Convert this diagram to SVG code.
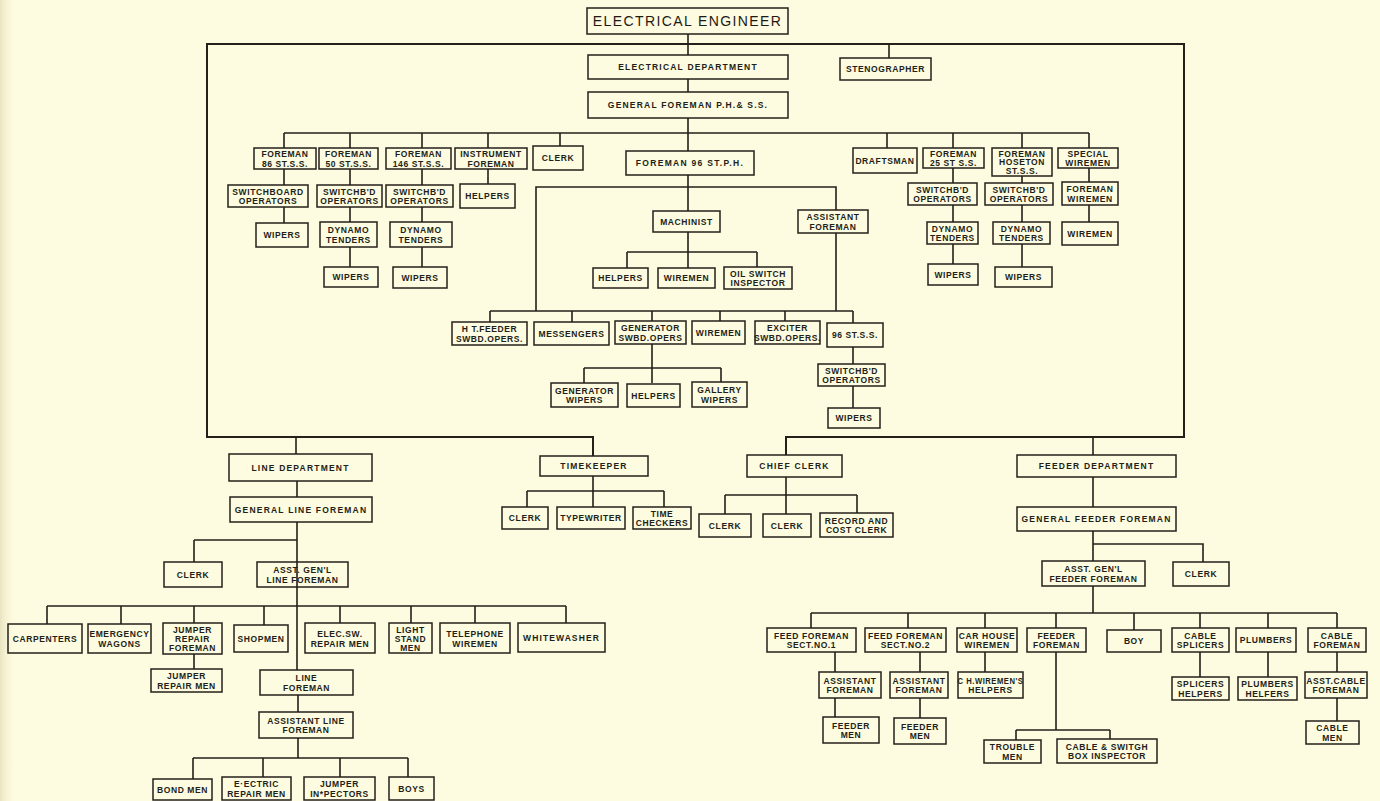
<svg xmlns="http://www.w3.org/2000/svg" width="1380" height="801" viewBox="0 0 1380 801">
<defs>
<linearGradient id="edge" x1="0" y1="0" x2="1" y2="0"><stop offset="0" stop-color="#e9e3c0"/><stop offset="1" stop-color="#fdfbe0" stop-opacity="0"/></linearGradient>
<style>
.b{fill:none;stroke:#24201a;stroke-width:1.5}
.c{fill:none;stroke:#24201a;stroke-width:1.6}
.fr{fill:none;stroke:#24201a;stroke-width:2}
.t{font-family:"Liberation Sans",Arial,sans-serif;font-size:8.5px;font-weight:bold;fill:#221e18;text-anchor:middle;letter-spacing:0.6px}
.d{font-family:"Liberation Sans",Arial,sans-serif;font-size:8.5px;font-weight:bold;fill:#221e18;text-anchor:middle;letter-spacing:1.2px}
.h{font-family:"Liberation Sans",Arial,sans-serif;font-size:14px;fill:#1d1a15;text-anchor:middle;letter-spacing:1.4px}
</style>
</defs>
<rect x="0" y="0" width="1380" height="801" fill="#fdfbe0"/>
<rect x="0" y="0" width="16" height="801" fill="url(#edge)"/>

<g id="connectors">
<path class="fr" d="M593,456 V437 H207 V44 H1184 V437 H786 V455"/>
<path class="c" d="M296,437 V454 M1093,437 V455"/>
<path class="c" d="M688,34 V55 M889,44 V58 M688,79 V92 M688,118 V133"/>
<path class="c" d="M284,133 H1089 M284,133 V148 M350,133 V148 M422,133 V148 M488,133 V148 M560,133 V146 M688,133 V151 M887,133 V148 M953,133 V148 M1022,133 V148 M1089,133 V148"/>
<path class="c" d="M284,169 V185 M284,207 V223"/>
<path class="c" d="M350,169 V185 M350,207 V222 M350,247 V267"/>
<path class="c" d="M422,169 V185 M422,207 V222 M422,247 V267"/>
<path class="c" d="M488,169 V184"/>
<path class="c" d="M953,168 V183 M953,205 V222 M953,244 V264"/>
<path class="c" d="M1022,176 V183 M1022,205 V222 M1022,244 V267"/>
<path class="c" d="M1089,168 V182 M1089,205 V222"/>
<path class="c" d="M688,175 V211 M536,311 V187 H836 V210 M836,233 V311 M490,311 H853"/>
<path class="c" d="M490,311 V322 M572,311 V322 M652,311 V321 M720,311 V321 M785,311 V321 M853,311 V323"/>
<path class="c" d="M688,232 V268 M627,252 H757 M627,252 V268 M757,252 V267"/>
<path class="c" d="M652,344 V383 M584,368 H721 M584,368 V383 M721,368 V382"/>
<path class="c" d="M853,347 V364 M853,386 V408"/>
<path class="c" d="M297,481 V497 M297,522 V670 M194,540 H297 M194,540 V562"/>
<path class="c" d="M47,606 H566 M47,606 V624 M121,606 V624 M194,606 V623 M264,606 V625 M340,606 V623 M411,606 V623 M475,606 V623 M566,606 V623"/>
<path class="c" d="M194,654 V669 M298,695 V712 M298,738 V758 M193,758 H408 M193,758 V779 M263,758 V777 M340,758 V777 M408,758 V777"/>
<path class="c" d="M593,476 V507 M527,491 H664 M527,491 V507 M664,491 V507"/>
<path class="c" d="M786,477 V514 M725,495 H857 M725,495 V514 M857,495 V513"/>
<path class="c" d="M1093,477 V507 M1093,531 V561 M1093,544 H1203 V562 M1093,586 V613"/>
<path class="c" d="M811,613 H1337 M811,613 V628 M908,613 V628 M985,613 V628 M1056,613 V628 M1134,613 V630 M1200,613 V628 M1268,613 V628 M1337,613 V628"/>
<path class="c" d="M835,652 V672 M835,698 V717 M920,652 V672 M920,698 V718 M985,652 V672"/>
<path class="c" d="M1056,652 V730 M1016,730 H1110 M1016,730 V740 M1110,730 V739"/>
<path class="c" d="M1200,652 V677 M1268,652 V677 M1337,652 V672 M1337,698 V721"/>
</g>

<g id="n-electrical-engineer"><rect class="b" x="587" y="8" width="201" height="26"/><text class="h" x="687.5" y="26">ELECTRICAL ENGINEER</text></g>
<g id="n-electrical-department"><rect class="b" x="588" y="55" width="200" height="24"/><text class="d" x="688" y="70">ELECTRICAL DEPARTMENT</text></g>
<g id="n-stenographer"><rect class="b" x="840" y="58" width="91" height="22"/><text class="t" x="885.5" y="72">STENOGRAPHER</text></g>
<g id="n-general-foreman"><rect class="b" x="588" y="92" width="200" height="26"/><text class="d" x="688" y="108">GENERAL FOREMAN P.H.&amp; S.S.</text></g>

<g id="n-foreman-86"><rect class="b" x="254" y="148" width="62" height="21"/><text class="t"><tspan x="285" y="157">FOREMAN</tspan><tspan x="285" y="166.5">86 ST.S.S.</tspan></text></g>
<g id="n-foreman-50"><rect class="b" x="319" y="148" width="59" height="21"/><text class="t"><tspan x="348.5" y="157">FOREMAN</tspan><tspan x="348.5" y="166.5">50 ST.S.S.</tspan></text></g>
<g id="n-foreman-146"><rect class="b" x="386" y="148" width="65" height="21"/><text class="t"><tspan x="418.5" y="157">FOREMAN</tspan><tspan x="418.5" y="166.5">146 ST.S.S.</tspan></text></g>
<g id="n-instrument-foreman"><rect class="b" x="455" y="148" width="72" height="21"/><text class="t"><tspan x="491" y="157">INSTRUMENT</tspan><tspan x="491" y="166.5">FOREMAN</tspan></text></g>
<g id="n-clerk-top"><rect class="b" x="533" y="146" width="50" height="24"/><text class="t" x="558" y="161">CLERK</text></g>
<g id="n-foreman-96"><rect class="b" x="626" y="151" width="128" height="24"/><text class="t" x="690" y="166" style="letter-spacing:1.3px">FOREMAN 96 ST.P.H.</text></g>
<g id="n-draftsman"><rect class="b" x="853" y="148" width="64" height="25"/><text class="t" x="885" y="163.5">DRAFTSMAN</text></g>
<g id="n-foreman-25"><rect class="b" x="923" y="148" width="61" height="20"/><text class="t"><tspan x="953.5" y="156.5">FOREMAN</tspan><tspan x="953.5" y="166">25 ST S.S.</tspan></text></g>
<g id="n-foreman-hoseton"><rect class="b" x="992" y="148" width="60" height="28"/><text class="t"><tspan x="1022" y="156.5">FOREMAN</tspan><tspan x="1022" y="165">HOSETON</tspan><tspan x="1022" y="173.5">ST.S.S.</tspan></text></g>
<g id="n-special-wiremen"><rect class="b" x="1058" y="148" width="60" height="20"/><text class="t"><tspan x="1088" y="156.5">SPECIAL</tspan><tspan x="1088" y="166">WIREMEN</tspan></text></g>

<g id="n-switchboard-86"><rect class="b" x="228" y="185" width="80" height="22"/><text class="t"><tspan x="268" y="194.5">SWITCHBOARD</tspan><tspan x="268" y="204">OPERATORS</tspan></text></g>
<g id="n-switchbd-50"><rect class="b" x="317" y="185" width="65" height="22"/><text class="t"><tspan x="349.5" y="194.5">SWITCHB'D</tspan><tspan x="349.5" y="204">OPERATORS</tspan></text></g>
<g id="n-switchbd-146"><rect class="b" x="386" y="185" width="67" height="22"/><text class="t"><tspan x="419.5" y="194.5">SWITCHB'D</tspan><tspan x="419.5" y="204">OPERATORS</tspan></text></g>
<g id="n-helpers-instr"><rect class="b" x="460" y="184" width="55" height="24"/><text class="t" x="487.5" y="199">HELPERS</text></g>
<g id="n-switchbd-25"><rect class="b" x="908" y="183" width="69" height="22"/><text class="t"><tspan x="942.5" y="192.5">SWITCHB'D</tspan><tspan x="942.5" y="202">OPERATORS</tspan></text></g>
<g id="n-switchbd-hoseton"><rect class="b" x="985" y="183" width="68" height="22"/><text class="t"><tspan x="1019" y="192.5">SWITCHB'D</tspan><tspan x="1019" y="202">OPERATORS</tspan></text></g>
<g id="n-foreman-wiremen"><rect class="b" x="1062" y="182" width="56" height="23"/><text class="t"><tspan x="1090" y="192">FOREMAN</tspan><tspan x="1090" y="201.5">WIREMEN</tspan></text></g>

<g id="n-wipers-86"><rect class="b" x="256" y="223" width="52" height="24"/><text class="t" x="282" y="238">WIPERS</text></g>
<g id="n-dynamo-50"><rect class="b" x="320" y="222" width="57" height="25"/><text class="t"><tspan x="348.5" y="233">DYNAMO</tspan><tspan x="348.5" y="242.5">TENDERS</tspan></text></g>
<g id="n-dynamo-146"><rect class="b" x="390" y="222" width="62" height="25"/><text class="t"><tspan x="421" y="233">DYNAMO</tspan><tspan x="421" y="242.5">TENDERS</tspan></text></g>
<g id="n-dynamo-25"><rect class="b" x="927" y="222" width="51" height="22"/><text class="t"><tspan x="952.5" y="231.5">DYNAMO</tspan><tspan x="952.5" y="241">TENDERS</tspan></text></g>
<g id="n-dynamo-hoseton"><rect class="b" x="993" y="222" width="57" height="22"/><text class="t"><tspan x="1021.5" y="231.5">DYNAMO</tspan><tspan x="1021.5" y="241">TENDERS</tspan></text></g>
<g id="n-wiremen-special"><rect class="b" x="1062" y="222" width="56" height="23"/><text class="t" x="1090" y="236.5">WIREMEN</text></g>

<g id="n-wipers-50"><rect class="b" x="324" y="267" width="54" height="20"/><text class="t" x="351" y="280">WIPERS</text></g>
<g id="n-wipers-146"><rect class="b" x="393" y="267" width="54" height="21"/><text class="t" x="420" y="280.5">WIPERS</text></g>
<g id="n-wipers-25"><rect class="b" x="928" y="264" width="50" height="21"/><text class="t" x="953" y="277.5">WIPERS</text></g>
<g id="n-wipers-hoseton"><rect class="b" x="995" y="267" width="57" height="20"/><text class="t" x="1023.5" y="280">WIPERS</text></g>

<g id="n-machinist"><rect class="b" x="653" y="211" width="67" height="21"/><text class="t" x="686.5" y="224.5">MACHINIST</text></g>
<g id="n-assistant-foreman"><rect class="b" x="798" y="210" width="70" height="23"/><text class="t"><tspan x="833" y="220">ASSISTANT</tspan><tspan x="833" y="229.5">FOREMAN</tspan></text></g>
<g id="n-helpers-mach"><rect class="b" x="593" y="268" width="55" height="20"/><text class="t" x="620.5" y="281">HELPERS</text></g>
<g id="n-wiremen-mach"><rect class="b" x="658" y="268" width="57" height="20"/><text class="t" x="686.5" y="281">WIREMEN</text></g>
<g id="n-oil-switch"><rect class="b" x="724" y="267" width="68" height="22"/><text class="t"><tspan x="758" y="276.5">OIL SWITCH</tspan><tspan x="758" y="286">INSPECTOR</tspan></text></g>

<g id="n-ht-feeder"><rect class="b" x="452" y="322" width="75" height="23"/><text class="t"><tspan x="489.5" y="332">H T.FEEDER</tspan><tspan x="489.5" y="341.5">SWBD.OPERS.</tspan></text></g>
<g id="n-messengers"><rect class="b" x="534" y="322" width="75" height="23"/><text class="t" x="571.5" y="336.5">MESSENGERS</text></g>
<g id="n-generator-swbd"><rect class="b" x="615" y="321" width="71" height="23"/><text class="t"><tspan x="650.5" y="331">GENERATOR</tspan><tspan x="650.5" y="340.5">SWBD.OPERS</tspan></text></g>
<g id="n-wiremen-ph"><rect class="b" x="692" y="321" width="53" height="23"/><text class="t" x="718.5" y="335.5">WIREMEN</text></g>
<g id="n-exciter"><rect class="b" x="755" y="321" width="65" height="23"/><text class="t"><tspan x="787.5" y="331">EXCITER</tspan><tspan x="787.5" y="340.5">SWBD.OPERS.</tspan></text></g>
<g id="n-96-ss"><rect class="b" x="827" y="323" width="56" height="24"/><text class="t" x="855" y="338">96 ST.S.S.</text></g>

<g id="n-generator-wipers"><rect class="b" x="551" y="383" width="67" height="24"/><text class="t"><tspan x="584.5" y="393.5">GENERATOR</tspan><tspan x="584.5" y="403">WIPERS</tspan></text></g>
<g id="n-helpers-gen"><rect class="b" x="627" y="384" width="53" height="23"/><text class="t" x="653.5" y="398.5">HELPERS</text></g>
<g id="n-gallery-wipers"><rect class="b" x="692" y="382" width="55" height="25"/><text class="t"><tspan x="719.5" y="393">GALLERY</tspan><tspan x="719.5" y="402.5">WIPERS</tspan></text></g>
<g id="n-switchbd-96"><rect class="b" x="818" y="364" width="67" height="22"/><text class="t"><tspan x="851.5" y="373.5">SWITCHB'D</tspan><tspan x="851.5" y="383">OPERATORS</tspan></text></g>
<g id="n-wipers-96"><rect class="b" x="828" y="408" width="52" height="20"/><text class="t" x="854" y="421">WIPERS</text></g>

<g id="n-line-department"><rect class="b" x="229" y="454" width="143" height="27"/><text class="d" x="300.5" y="470.5">LINE DEPARTMENT</text></g>
<g id="n-general-line-foreman"><rect class="b" x="230" y="497" width="142" height="25"/><text class="d" x="301" y="512.5">GENERAL LINE FOREMAN</text></g>
<g id="n-clerk-line"><rect class="b" x="164" y="562" width="58" height="25"/><text class="t" x="193" y="577.5">CLERK</text></g>
<g id="n-asst-gen-line"><rect class="b" x="257" y="562" width="91" height="25"/><text class="t"><tspan x="302.5" y="573">ASST. GEN'L</tspan><tspan x="302.5" y="582.5">LINE FOREMAN</tspan></text></g>
<g id="n-carpenters"><rect class="b" x="8" y="624" width="74" height="29"/><text class="t" x="45" y="641.5">CARPENTERS</text></g>
<g id="n-emergency"><rect class="b" x="88" y="624" width="63" height="29"/><text class="t"><tspan x="119.5" y="637">EMERGENCY</tspan><tspan x="119.5" y="646.5">WAGONS</tspan></text></g>
<g id="n-jumper-foreman"><rect class="b" x="163" y="623" width="59" height="31"/><text class="t"><tspan x="192.5" y="632.5">JUMPER</tspan><tspan x="192.5" y="641.5">REPAIR</tspan><tspan x="192.5" y="650.5">FOREMAN</tspan></text></g>
<g id="n-shopmen"><rect class="b" x="234" y="625" width="54" height="27"/><text class="t" x="261" y="641.5">SHOPMEN</text></g>
<g id="n-elec-sw"><rect class="b" x="305" y="623" width="70" height="30"/><text class="t"><tspan x="340" y="637">ELEC.SW.</tspan><tspan x="340" y="646.5">REPAIR MEN</tspan></text></g>
<g id="n-light-stand"><rect class="b" x="389" y="623" width="43" height="30"/><text class="t"><tspan x="410.5" y="632.5">LIGHT</tspan><tspan x="410.5" y="641.5">STAND</tspan><tspan x="410.5" y="650.5">MEN</tspan></text></g>
<g id="n-telephone"><rect class="b" x="440" y="623" width="70" height="30"/><text class="t"><tspan x="475" y="637">TELEPHONE</tspan><tspan x="475" y="646.5">WIREMEN</tspan></text></g>
<g id="n-whitewasher"><rect class="b" x="518" y="623" width="87" height="29"/><text class="t" x="561.5" y="640.5" style="letter-spacing:1.1px">WHITEWASHER</text></g>
<g id="n-jumper-men"><rect class="b" x="151" y="669" width="71" height="23"/><text class="t"><tspan x="186.5" y="679">JUMPER</tspan><tspan x="186.5" y="688.5">REPAIR MEN</tspan></text></g>
<g id="n-line-foreman"><rect class="b" x="260" y="670" width="93" height="25"/><text class="t"><tspan x="306.5" y="681">LINE</tspan><tspan x="306.5" y="690.5">FOREMAN</tspan></text></g>
<g id="n-assistant-line"><rect class="b" x="259" y="712" width="94" height="26"/><text class="t"><tspan x="306" y="723.5">ASSISTANT LINE</tspan><tspan x="306" y="733">FOREMAN</tspan></text></g>
<g id="n-bond-men"><rect class="b" x="153" y="779" width="59" height="21"/><text class="t" x="182.5" y="792.5">BOND MEN</text></g>
<g id="n-electric-repair"><rect class="b" x="222" y="777" width="69" height="23"/><text class="t"><tspan x="256.5" y="787">E·ECTRIC</tspan><tspan x="256.5" y="796.5">REPAIR MEN</tspan></text></g>
<g id="n-jumper-inspectors"><rect class="b" x="304" y="777" width="71" height="23"/><text class="t"><tspan x="339.5" y="787">JUMPER</tspan><tspan x="339.5" y="796.5">IN*PECTORS</tspan></text></g>
<g id="n-boys"><rect class="b" x="389" y="777" width="45" height="23"/><text class="t" x="411.5" y="791.5">BOYS</text></g>

<g id="n-timekeeper"><rect class="b" x="540" y="456" width="108" height="20"/><text class="d" x="594" y="469">TIMEKEEPER</text></g>
<g id="n-clerk-tk"><rect class="b" x="502" y="507" width="46" height="22"/><text class="t" x="525" y="521">CLERK</text></g>
<g id="n-typewriter"><rect class="b" x="557" y="507" width="68" height="22"/><text class="t" x="591" y="521">TYPEWRITER</text></g>
<g id="n-time-checkers"><rect class="b" x="633" y="507" width="58" height="22"/><text class="t"><tspan x="662" y="516.5">TIME</tspan><tspan x="662" y="526">CHECKERS</tspan></text></g>

<g id="n-chief-clerk"><rect class="b" x="747" y="455" width="95" height="22"/><text class="d" x="794.5" y="469">CHIEF CLERK</text></g>
<g id="n-clerk-c1"><rect class="b" x="699" y="514" width="52" height="23"/><text class="t" x="725" y="528.5">CLERK</text></g>
<g id="n-clerk-c2"><rect class="b" x="763" y="514" width="48" height="23"/><text class="t" x="787" y="528.5">CLERK</text></g>
<g id="n-record-cost"><rect class="b" x="820" y="513" width="73" height="24"/><text class="t"><tspan x="856.5" y="523.5">RECORD AND</tspan><tspan x="856.5" y="533">COST CLERK</tspan></text></g>

<g id="n-feeder-department"><rect class="b" x="1017" y="455" width="159" height="22"/><text class="d" x="1096.5" y="469">FEEDER DEPARTMENT</text></g>
<g id="n-general-feeder"><rect class="b" x="1017" y="507" width="159" height="24"/><text class="d" x="1096.5" y="522">GENERAL FEEDER FOREMAN</text></g>
<g id="n-asst-gen-feeder"><rect class="b" x="1042" y="561" width="103" height="25"/><text class="t"><tspan x="1093.5" y="572">ASST. GEN'L</tspan><tspan x="1093.5" y="581.5">FEEDER FOREMAN</tspan></text></g>
<g id="n-clerk-feeder"><rect class="b" x="1173" y="562" width="56" height="24"/><text class="t" x="1201" y="577">CLERK</text></g>
<g id="n-feed-foreman-1"><rect class="b" x="767" y="628" width="89" height="24"/><text class="t"><tspan x="811.5" y="638.5">FEED FOREMAN</tspan><tspan x="811.5" y="648">SECT.NO.1</tspan></text></g>
<g id="n-feed-foreman-2"><rect class="b" x="865" y="628" width="81" height="24"/><text class="t"><tspan x="905.5" y="638.5">FEED FOREMAN</tspan><tspan x="905.5" y="648">SECT.NO.2</tspan></text></g>
<g id="n-car-house"><rect class="b" x="957" y="628" width="60" height="24"/><text class="t"><tspan x="987" y="638.5">CAR HOUSE</tspan><tspan x="987" y="648">WIREMEN</tspan></text></g>
<g id="n-feeder-foreman"><rect class="b" x="1027" y="628" width="59" height="24"/><text class="t"><tspan x="1056.5" y="638.5">FEEDER</tspan><tspan x="1056.5" y="648">FOREMAN</tspan></text></g>
<g id="n-boy"><rect class="b" x="1107" y="630" width="54" height="22"/><text class="t" x="1134" y="644">BOY</text></g>
<g id="n-cable-splicers"><rect class="b" x="1172" y="628" width="57" height="24"/><text class="t"><tspan x="1200.5" y="638.5">CABLE</tspan><tspan x="1200.5" y="648">SPLICERS</tspan></text></g>
<g id="n-plumbers"><rect class="b" x="1236" y="628" width="60" height="24"/><text class="t" x="1266" y="643">PLUMBERS</text></g>
<g id="n-cable-foreman"><rect class="b" x="1308" y="628" width="58" height="24"/><text class="t"><tspan x="1337" y="638.5">CABLE</tspan><tspan x="1337" y="648">FOREMAN</tspan></text></g>
<g id="n-assistant-foreman-1"><rect class="b" x="819" y="672" width="62" height="26"/><text class="t"><tspan x="850" y="683.5">ASSISTANT</tspan><tspan x="850" y="693">FOREMAN</tspan></text></g>
<g id="n-assistant-foreman-2"><rect class="b" x="890" y="672" width="58" height="26"/><text class="t"><tspan x="919" y="683.5">ASSISTANT</tspan><tspan x="919" y="693">FOREMAN</tspan></text></g>
<g id="n-ch-helpers"><rect class="b" x="958" y="672" width="65" height="26"/><text class="t"><tspan x="990.5" y="683.5" textLength="66" lengthAdjust="spacingAndGlyphs">C H.WIREMEN'S</tspan><tspan x="990.5" y="693">HELPERS</tspan></text></g>
<g id="n-splicers-helpers"><rect class="b" x="1172" y="677" width="57" height="23"/><text class="t"><tspan x="1200.5" y="687">SPLICERS</tspan><tspan x="1200.5" y="696.5">HELPERS</tspan></text></g>
<g id="n-plumbers-helpers"><rect class="b" x="1238" y="677" width="59" height="23"/><text class="t"><tspan x="1267.5" y="687">PLUMBERS</tspan><tspan x="1267.5" y="696.5">HELFERS</tspan></text></g>
<g id="n-asst-cable"><rect class="b" x="1305" y="672" width="62" height="26"/><text class="t"><tspan x="1336" y="683.5">ASST.CABLE</tspan><tspan x="1336" y="693">FOREMAN</tspan></text></g>
<g id="n-feeder-men-1"><rect class="b" x="823" y="717" width="56" height="26"/><text class="t"><tspan x="851" y="728.5">FEEDER</tspan><tspan x="851" y="738">MEN</tspan></text></g>
<g id="n-feeder-men-2"><rect class="b" x="894" y="718" width="52" height="26"/><text class="t"><tspan x="920" y="729.5">FEEDER</tspan><tspan x="920" y="739">MEN</tspan></text></g>
<g id="n-cable-men"><rect class="b" x="1306" y="721" width="53" height="23"/><text class="t"><tspan x="1332.5" y="731">CABLE</tspan><tspan x="1332.5" y="740.5">MEN</tspan></text></g>
<g id="n-trouble-men"><rect class="b" x="984" y="740" width="57" height="23"/><text class="t"><tspan x="1012.5" y="750">TROUBLE</tspan><tspan x="1012.5" y="759.5">MEN</tspan></text></g>
<g id="n-cable-switch"><rect class="b" x="1057" y="739" width="100" height="24"/><text class="t"><tspan x="1107" y="749.5">CABLE &amp; SWITGH</tspan><tspan x="1107" y="759">BOX INSPECTOR</tspan></text></g>
</svg>
